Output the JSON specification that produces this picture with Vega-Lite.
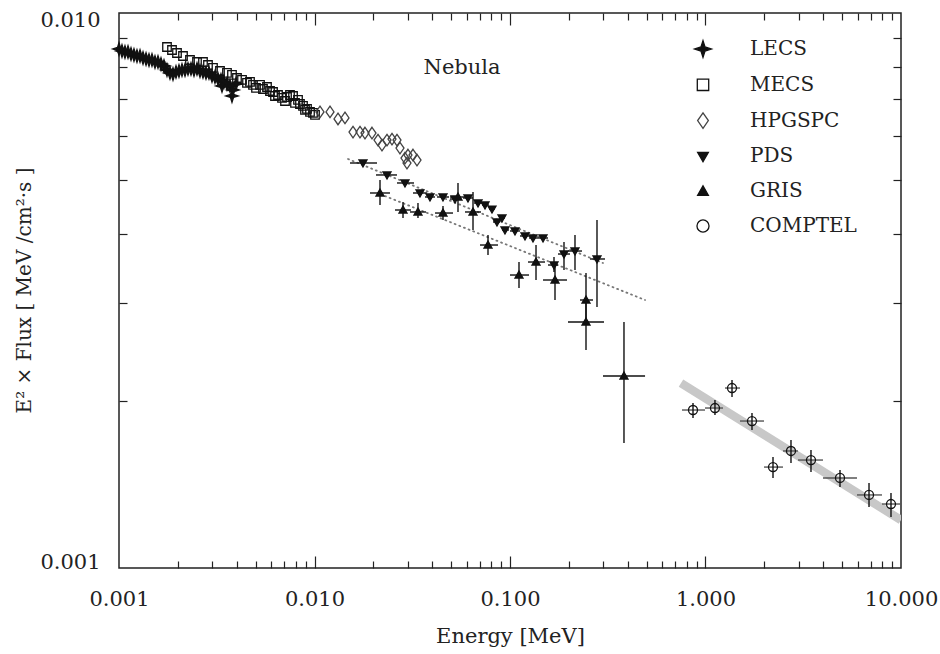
{
  "$schema": "https://vega.github.io/schema/vega-lite/v6.json",
  "width": 782,
  "height": 555,
  "autosize": {"type": "none"},
  "padding": {"left": 119, "top": 13, "right": 39, "bottom": 86},
  "background": "white",
  "config": {
    "view": {"stroke": "#222", "strokeWidth": 1.5},
    "font": "DejaVu Serif",
    "axis": {"grid": false, "domain": false}
  },
  "datasets": {
    "band": [{"x": 0.7493, "y": 0.002154}, {"x": 10, "y": 0.00122}],
    "fits": [
      {"fit": "a", "x": 0.01484, "y": 0.005457},
      {"fit": "a", "x": 0.29898, "y": 0.003544},
      {"fit": "b", "x": 0.02294, "y": 0.00468},
      {"fit": "b", "x": 0.49066, "y": 0.00304}
    ],
    "note": [{"label": "Nebula", "x": 0.05682, "y": 0.007961}],
    "pts": [
      {"inst": "LECS", "x": 0.001, "y": 0.008613},
      {"inst": "LECS", "x": 0.001036, "y": 0.008542},
      {"inst": "LECS", "x": 0.001073, "y": 0.008506},
      {"inst": "LECS", "x": 0.001112, "y": 0.008506},
      {"inst": "LECS", "x": 0.001152, "y": 0.008436},
      {"inst": "LECS", "x": 0.001193, "y": 0.008401},
      {"inst": "LECS", "x": 0.001236, "y": 0.008366},
      {"inst": "LECS", "x": 0.001281, "y": 0.008366},
      {"inst": "LECS", "x": 0.001327, "y": 0.008297},
      {"inst": "LECS", "x": 0.001375, "y": 0.008263},
      {"inst": "LECS", "x": 0.001424, "y": 0.008229},
      {"inst": "LECS", "x": 0.001475, "y": 0.008229},
      {"inst": "LECS", "x": 0.001528, "y": 0.008161},
      {"inst": "LECS", "x": 0.001583, "y": 0.008161},
      {"inst": "LECS", "x": 0.00164, "y": 0.008094},
      {"inst": "LECS", "x": 0.001699, "y": 0.008027},
      {"inst": "LECS", "x": 0.00176, "y": 0.007895},
      {"inst": "LECS", "x": 0.001823, "y": 0.007798},
      {"inst": "LECS", "x": 0.001889, "y": 0.007765},
      {"inst": "LECS", "x": 0.001957, "y": 0.00783},
      {"inst": "LECS", "x": 0.002027, "y": 0.007862},
      {"inst": "LECS", "x": 0.0021, "y": 0.007895},
      {"inst": "LECS", "x": 0.002176, "y": 0.007895},
      {"inst": "LECS", "x": 0.002254, "y": 0.007928},
      {"inst": "LECS", "x": 0.002335, "y": 0.007928},
      {"inst": "LECS", "x": 0.002419, "y": 0.007895},
      {"inst": "LECS", "x": 0.002506, "y": 0.007928},
      {"inst": "LECS", "x": 0.002596, "y": 0.007862},
      {"inst": "LECS", "x": 0.002689, "y": 0.00783},
      {"inst": "LECS", "x": 0.002786, "y": 0.007798},
      {"inst": "LECS", "x": 0.002886, "y": 0.007798},
      {"inst": "LECS", "x": 0.00299, "y": 0.007701},
      {"inst": "LECS", "x": 0.003097, "y": 0.007669},
      {"inst": "LECS", "x": 0.003209, "y": 0.007606},
      {"inst": "LECS", "x": 0.003324, "y": 0.007575},
      {"inst": "LECS", "x": 0.003364, "y": 0.007389},
      {"inst": "LECS", "x": 0.003444, "y": 0.007512},
      {"inst": "LECS", "x": 0.003567, "y": 0.00745},
      {"inst": "LECS", "x": 0.003696, "y": 0.007389},
      {"inst": "LECS", "x": 0.003784, "y": 0.007087},
      {"inst": "LECS", "x": 0.003828, "y": 0.007268},
      {"inst": "LECS", "x": 0.003966, "y": 0.00745},
      {"inst": "MECS", "x": 0.00176, "y": 0.008685},
      {"inst": "MECS", "x": 0.001867, "y": 0.008577},
      {"inst": "MECS", "x": 0.00198, "y": 0.008471},
      {"inst": "MECS", "x": 0.002125, "y": 0.008366},
      {"inst": "MECS", "x": 0.002307, "y": 0.008229},
      {"inst": "MECS", "x": 0.002506, "y": 0.008161},
      {"inst": "MECS", "x": 0.002689, "y": 0.008161},
      {"inst": "MECS", "x": 0.002852, "y": 0.00806},
      {"inst": "MECS", "x": 0.003025, "y": 0.007961},
      {"inst": "MECS", "x": 0.003285, "y": 0.007862},
      {"inst": "MECS", "x": 0.003567, "y": 0.007798},
      {"inst": "MECS", "x": 0.003784, "y": 0.007733},
      {"inst": "MECS", "x": 0.004013, "y": 0.007637},
      {"inst": "MECS", "x": 0.004258, "y": 0.007575},
      {"inst": "MECS", "x": 0.004516, "y": 0.007481},
      {"inst": "MECS", "x": 0.004678, "y": 0.007512},
      {"inst": "MECS", "x": 0.004846, "y": 0.007419},
      {"inst": "MECS", "x": 0.005021, "y": 0.007327},
      {"inst": "MECS", "x": 0.005264, "y": 0.007419},
      {"inst": "MECS", "x": 0.005452, "y": 0.007296},
      {"inst": "MECS", "x": 0.005715, "y": 0.007357},
      {"inst": "MECS", "x": 0.005921, "y": 0.007236},
      {"inst": "MECS", "x": 0.006135, "y": 0.007206},
      {"inst": "MECS", "x": 0.00628, "y": 0.007087},
      {"inst": "MECS", "x": 0.006506, "y": 0.007117},
      {"inst": "MECS", "x": 0.006821, "y": 0.007029},
      {"inst": "MECS", "x": 0.007065, "y": 0.006942},
      {"inst": "MECS", "x": 0.007234, "y": 0.007058},
      {"inst": "MECS", "x": 0.007493, "y": 0.007117},
      {"inst": "MECS", "x": 0.007765, "y": 0.007087},
      {"inst": "MECS", "x": 0.007948, "y": 0.006885},
      {"inst": "MECS", "x": 0.008235, "y": 0.006971},
      {"inst": "MECS", "x": 0.008429, "y": 0.006856},
      {"inst": "MECS", "x": 0.008734, "y": 0.0068},
      {"inst": "MECS", "x": 0.008942, "y": 0.006688},
      {"inst": "MECS", "x": 0.009155, "y": 0.006716},
      {"inst": "MECS", "x": 0.009484, "y": 0.006633},
      {"inst": "MECS", "x": 0.009825, "y": 0.006605},
      {"inst": "MECS", "x": 0.01006, "y": 0.006551},
      {"inst": "HPGSPC", "x": 0.010669, "y": 0.006633},
      {"inst": "HPGSPC", "x": 0.012003, "y": 0.006633},
      {"inst": "HPGSPC", "x": 0.01319, "y": 0.006442},
      {"inst": "HPGSPC", "x": 0.014322, "y": 0.006469},
      {"inst": "HPGSPC", "x": 0.015739, "y": 0.006103},
      {"inst": "HPGSPC", "x": 0.017091, "y": 0.006103},
      {"inst": "HPGSPC", "x": 0.018126, "y": 0.006078},
      {"inst": "HPGSPC", "x": 0.019685, "y": 0.006078},
      {"inst": "HPGSPC", "x": 0.021127, "y": 0.005903},
      {"inst": "HPGSPC", "x": 0.022145, "y": 0.005782},
      {"inst": "HPGSPC", "x": 0.023489, "y": 0.005903},
      {"inst": "HPGSPC", "x": 0.024913, "y": 0.005928},
      {"inst": "HPGSPC", "x": 0.026421, "y": 0.005903},
      {"inst": "HPGSPC", "x": 0.02737, "y": 0.00571},
      {"inst": "HPGSPC", "x": 0.029032, "y": 0.005479},
      {"inst": "HPGSPC", "x": 0.029724, "y": 0.005366},
      {"inst": "HPGSPC", "x": 0.030075, "y": 0.005548},
      {"inst": "HPGSPC", "x": 0.031904, "y": 0.005548},
      {"inst": "HPGSPC", "x": 0.033443, "y": 0.005434},
      {"inst": "PDS", "x": 0.0177, "y": 0.005367, "xlo": 0.01519, "xhi": 0.02088},
      {"inst": "PDS", "x": 0.02349, "y": 0.005107, "xlo": 0.02063, "xhi": 0.02642},
      {"inst": "PDS", "x": 0.02903, "y": 0.00494, "xlo": 0.02642, "xhi": 0.03228},
      {"inst": "PDS", "x": 0.03464, "y": 0.004739, "xlo": 0.0319, "xhi": 0.03761},
      {"inst": "PDS", "x": 0.03897, "y": 0.004661, "xlo": 0.03674, "xhi": 0.04135},
      {"inst": "PDS", "x": 0.04542, "y": 0.004661, "xlo": 0.04233, "xhi": 0.04875},
      {"inst": "PDS", "x": 0.05232, "y": 0.004622, "xlo": 0.04933, "xhi": 0.05549},
      {"inst": "PDS", "x": 0.06097, "y": 0.004642, "xlo": 0.05749, "xhi": 0.06468},
      {"inst": "PDS", "x": 0.06861, "y": 0.004546, "xlo": 0.06545, "xhi": 0.07191},
      {"inst": "PDS", "x": 0.0745, "y": 0.004509, "xlo": 0.07191, "xhi": 0.07809},
      {"inst": "PDS", "x": 0.08089, "y": 0.004434, "xlo": 0.07809, "xhi": 0.0838},
      {"inst": "PDS", "x": 0.08579, "y": 0.004202, "xlo": 0.08185, "xhi": 0.08888},
      {"inst": "PDS", "x": 0.09099, "y": 0.004272, "xlo": 0.08784, "xhi": 0.09426},
      {"inst": "PDS", "x": 0.09426, "y": 0.004065, "xlo": 0.09099, "xhi": 0.09883},
      {"inst": "PDS", "x": 0.10606, "y": 0.004048, "xlo": 0.1, "xhi": 0.1125},
      {"inst": "PDS", "x": 0.11933, "y": 0.003965, "xlo": 0.1125, "xhi": 0.12657},
      {"inst": "PDS", "x": 0.13112, "y": 0.003932, "xlo": 0.1251, "xhi": 0.13909},
      {"inst": "PDS", "x": 0.14754, "y": 0.003932, "xlo": 0.13909, "xhi": 0.15646},
      {"inst": "PDS", "x": 0.16791, "y": 0.003515, "xlo": 0.15646, "xhi": 0.176, "ylo": 0.003634, "yhi": 0.003415},
      {"inst": "PDS", "x": 0.18888, "y": 0.003679, "xlo": 0.176, "xhi": 0.20272, "ylo": 0.003867, "yhi": 0.003443},
      {"inst": "PDS", "x": 0.215, "y": 0.003725, "xlo": 0.198, "xhi": 0.23347, "ylo": 0.003981, "yhi": 0.003443},
      {"inst": "PDS", "x": 0.2786, "y": 0.003604, "xlo": 0.25659, "xhi": 0.30613, "ylo": 0.004237, "yhi": 0.002953},
      {"inst": "GRIS", "x": 0.02163, "y": 0.004739, "xlo": 0.01922, "xhi": 0.02433, "ylo": 0.005002, "yhi": 0.004509},
      {"inst": "GRIS", "x": 0.02836, "y": 0.004416, "xlo": 0.02581, "xhi": 0.03116, "ylo": 0.004565, "yhi": 0.004272},
      {"inst": "GRIS", "x": 0.03383, "y": 0.00438, "xlo": 0.03079, "xhi": 0.03717, "ylo": 0.004546, "yhi": 0.004272},
      {"inst": "GRIS", "x": 0.04542, "y": 0.004361, "xlo": 0.04135, "xhi": 0.0511, "ylo": 0.00449, "yhi": 0.004237},
      {"inst": "GRIS", "x": 0.0542, "y": 0.004661, "xlo": 0.04933, "xhi": 0.05955, "ylo": 0.00494, "yhi": 0.00438},
      {"inst": "GRIS", "x": 0.06468, "y": 0.00438, "xlo": 0.05886, "xhi": 0.07107, "ylo": 0.004759, "yhi": 0.004065},
      {"inst": "GRIS", "x": 0.07717, "y": 0.003819, "xlo": 0.07024, "xhi": 0.08681, "ylo": 0.003981, "yhi": 0.003664},
      {"inst": "GRIS", "x": 0.11118, "y": 0.003372, "xlo": 0.1, "xhi": 0.1251, "ylo": 0.003559, "yhi": 0.003195},
      {"inst": "GRIS", "x": 0.13585, "y": 0.003559, "xlo": 0.12363, "xhi": 0.15102, "ylo": 0.003819, "yhi": 0.003303},
      {"inst": "GRIS", "x": 0.1699, "y": 0.003303, "xlo": 0.14754, "xhi": 0.19567, "ylo": 0.003515, "yhi": 0.00304},
      {"inst": "GRIS", "x": 0.24477, "y": 0.00304, "xlo": 0.22803, "xhi": 0.26578, "ylo": 0.0034, "yhi": 0.002775},
      {"inst": "GRIS", "x": 0.24477, "y": 0.002775, "xlo": 0.198, "xhi": 0.30254, "ylo": 0.00304, "yhi": 0.002471},
      {"inst": "GRIS", "x": 0.38284, "y": 0.002218, "xlo": 0.29898, "xhi": 0.49066, "ylo": 0.002775, "yhi": 0.00168},
      {"inst": "COMPTEL", "x": 0.8631, "y": 0.001926, "xlo": 0.7582, "xhi": 0.9941, "ylo": 0.001983, "yhi": 0.001863},
      {"inst": "COMPTEL", "x": 1.118, "y": 0.001942, "xlo": 0.9941, "xhi": 1.229, "ylo": 0.002008, "yhi": 0.001887},
      {"inst": "COMPTEL", "x": 1.3665, "y": 0.00211, "xlo": 1.258, "xhi": 1.501, "ylo": 0.002181, "yhi": 0.002033},
      {"inst": "COMPTEL", "x": 1.729, "y": 0.00184, "xlo": 1.501, "xhi": 1.992, "ylo": 0.001902, "yhi": 0.001773},
      {"inst": "COMPTEL", "x": 2.2145, "y": 0.00152, "xlo": 1.992, "xhi": 2.491, "ylo": 0.001585, "yhi": 0.001453},
      {"inst": "COMPTEL", "x": 2.737, "y": 0.001625, "xlo": 2.491, "xhi": 2.972, "ylo": 0.001701, "yhi": 0.001546},
      {"inst": "COMPTEL", "x": 3.464, "y": 0.001565, "xlo": 2.972, "xhi": 3.99, "ylo": 0.001632, "yhi": 0.001489},
      {"inst": "COMPTEL", "x": 4.875, "y": 0.001453, "xlo": 3.99, "xhi": 5.955, "ylo": 0.001502, "yhi": 0.001399},
      {"inst": "COMPTEL", "x": 6.861, "y": 0.001354, "xlo": 5.955, "xhi": 7.994, "ylo": 0.001423, "yhi": 0.001288},
      {"inst": "COMPTEL", "x": 8.888, "y": 0.001304, "xlo": 7.994, "xhi": 10, "ylo": 0.001365, "yhi": 0.001236}
    ]
  },
  "resolve": {"axis": {"x": "independent", "y": "independent"}},
  "layer": [
    {
      "data": {"name": "band"},
      "mark": {"type": "line", "color": "#c8c8c8", "strokeWidth": 8.5, "strokeCap": "butt", "clip": true},
      "encoding": {
        "x": {"field": "x", "type": "quantitative",
          "scale": {"type": "log", "domain": [0.001, 10], "nice": false},
          "axis": {"orient": "bottom", "values": [0.001, 0.01, 0.1, 1, 10], "format": ".3f", "ticks": false, "domain": false, "grid": false,
            "labelPadding": 20, "labelFontSize": 21, "labelFont": "DejaVu Serif", "labelColor": "#222", "labelFlush": false, "labelOverlap": false,
            "title": "Energy [MeV]", "titleFont": "DejaVu Serif", "titleFontSize": 21, "titleFontWeight": "normal", "titleColor": "#222", "titlePadding": 16}},
        "y": {"field": "y", "type": "quantitative",
          "scale": {"type": "log", "domain": [0.001, 0.01], "nice": false},
          "axis": {"orient": "left", "values": [0.001, 0.01], "format": ".3f", "ticks": false, "domain": false, "grid": false,
            "labelPadding": 19, "labelFontSize": 21, "labelFont": "DejaVu Serif", "labelColor": "#222", "labelFlush": true, "labelFlushOffset": 4, "labelOverlap": false,
            "title": "E² × Flux [ MeV /cm²·s ]", "titleFont": "DejaVu Serif", "titleFontSize": 20, "titleFontWeight": "normal", "titleColor": "#222",
            "titleX": -95, "titleY": 277, "titleAngle": -90, "titleBaseline": "middle", "titleAlign": "center"}}
      }
    },
    {
      "data": {"name": "fits"},
      "mark": {"type": "line", "color": "#777", "strokeWidth": 1.8, "strokeDash": [1, 4], "strokeCap": "round"},
      "encoding": {
        "x": {"field": "x", "type": "quantitative",
          "axis": {"orient": "bottom", "values": [0.01, 0.1, 1], "labels": false, "ticks": true, "tickSize": -12, "tickColor": "#222", "tickWidth": 1.2, "domain": false, "grid": false, "title": null}},
        "y": {"field": "y", "type": "quantitative",
          "axis": {"orient": "left", "values": [0.002, 0.003, 0.004, 0.005, 0.006, 0.007, 0.008, 0.009], "labels": false, "ticks": true, "tickSize": -8, "tickColor": "#222", "tickWidth": 1.2, "domain": false, "grid": false, "title": null}},
        "detail": {"field": "fit"}
      }
    },
    {
      "data": {"name": "pts"},
      "transform": [{"filter": "isValid(datum.xlo)"}],
      "mark": {"type": "rule", "strokeWidth": 1.4},
      "encoding": {
        "x": {"field": "xlo", "type": "quantitative",
          "axis": {"orient": "bottom", "values": [0.002, 0.003, 0.004, 0.005, 0.006, 0.007, 0.008, 0.009, 0.02, 0.03, 0.04, 0.05, 0.06, 0.07, 0.08, 0.09, 0.2, 0.3, 0.4, 0.5, 0.6, 0.7, 0.8, 0.9, 2, 3, 4, 5, 6, 7, 8, 9], "labels": false, "ticks": true, "tickSize": -7, "tickColor": "#222", "tickWidth": 1.2, "domain": false, "grid": false, "title": null}},
        "x2": {"field": "xhi"},
        "y": {"field": "y", "type": "quantitative",
          "axis": {"orient": "right", "values": [0.002, 0.003, 0.004, 0.005, 0.006, 0.007, 0.008, 0.009], "labels": false, "ticks": true, "tickSize": -8, "tickColor": "#222", "tickWidth": 1.2, "domain": false, "grid": false, "title": null}},
        "color": {"condition": {"test": "datum.inst === 'COMPTEL'", "value": "#555"}, "value": "#111"}
      }
    },
    {
      "data": {"name": "pts"},
      "transform": [{"filter": "isValid(datum.ylo)"}],
      "mark": {"type": "rule", "strokeWidth": 1.4},
      "encoding": {
        "x": {"field": "x", "type": "quantitative",
          "axis": {"orient": "top", "values": [0.01, 0.1, 1], "labels": false, "ticks": true, "tickSize": -12, "tickColor": "#222", "tickWidth": 1.2, "domain": false, "grid": false, "title": null}},
        "y": {"field": "ylo", "type": "quantitative", "axis": null},
        "y2": {"field": "yhi"},
        "color": {"value": "#111"}
      }
    },
    {
      "data": {"name": "pts"},
      "mark": {"type": "point", "filled": true, "size": 100, "strokeWidth": 1.3, "opacity": 1},
      "encoding": {
        "x": {"field": "x", "type": "quantitative",
          "axis": {"orient": "top", "values": [0.002, 0.003, 0.004, 0.005, 0.006, 0.007, 0.008, 0.009, 0.02, 0.03, 0.04, 0.05, 0.06, 0.07, 0.08, 0.09, 0.2, 0.3, 0.4, 0.5, 0.6, 0.7, 0.8, 0.9, 2, 3, 4, 5, 6, 7, 8, 9], "labels": false, "ticks": true, "tickSize": -7, "tickColor": "#222", "tickWidth": 1.2, "domain": false, "grid": false, "title": null}},
        "y": {"field": "y", "type": "quantitative", "axis": null},
        "shape": {"field": "inst", "type": "nominal",
          "scale": {"domain": ["LECS", "MECS", "HPGSPC", "PDS", "GRIS", "COMPTEL"],
            "range": ["M0,-1.25L0.3,-0.3L1.25,0L0.3,0.3L0,1.25L-0.3,0.3L-1.25,0L-0.3,-0.3Z",
              "M-0.85,-0.85L0.85,-0.85L0.85,0.85L-0.85,0.85Z",
              "M0,-1.15L0.8,0L0,1.15L-0.8,0Z",
              "M-0.8,-0.6L0.8,-0.6L0,0.8Z",
              "M-0.8,0.6L0.8,0.6L0,-0.8Z",
              "M0.9,0A0.9,0.9,0,1,1,-0.9,0A0.9,0.9,0,1,1,0.9,0Z"]},
          "legend": {"title": null, "orient": "none", "legendX": 574, "legendY": 26, "symbolSize": 180, "labelFontSize": 20, "labelFont": "DejaVu Serif", "labelColor": "#222", "labelOffset": 37, "rowPadding": 14.8, "padding": 0, "symbolStrokeWidth": 1.3, "labelLimit": 300}},
        "fill": {"field": "inst", "type": "nominal",
          "scale": {"domain": ["LECS", "MECS", "HPGSPC", "PDS", "GRIS", "COMPTEL"], "range": ["#111", "transparent", "transparent", "#111", "#111", "transparent"]},
          "legend": {"title": null, "orient": "none", "legendX": 574, "legendY": 26, "symbolSize": 180, "labelFontSize": 20, "labelFont": "DejaVu Serif", "labelColor": "#222", "labelOffset": 37, "rowPadding": 14.8, "padding": 0, "symbolStrokeWidth": 1.3, "labelLimit": 300}},
        "stroke": {"field": "inst", "type": "nominal",
          "scale": {"domain": ["LECS", "MECS", "HPGSPC", "PDS", "GRIS", "COMPTEL"], "range": ["#111", "#111", "#444", "#111", "#111", "#111"]},
          "legend": {"title": null, "orient": "none", "legendX": 574, "legendY": 26, "symbolSize": 180, "labelFontSize": 20, "labelFont": "DejaVu Serif", "labelColor": "#222", "labelOffset": 37, "rowPadding": 14.8, "padding": 0, "symbolStrokeWidth": 1.3, "labelLimit": 300}}
      }
    },
    {
      "data": {"name": "note"},
      "mark": {"type": "text", "font": "DejaVu Serif", "fontSize": 21, "color": "#222", "align": "center", "baseline": "middle"},
      "encoding": {
        "x": {"field": "x", "type": "quantitative", "axis": null},
        "y": {"field": "y", "type": "quantitative", "axis": null},
        "text": {"field": "label"}
      }
    }
  ]
}
